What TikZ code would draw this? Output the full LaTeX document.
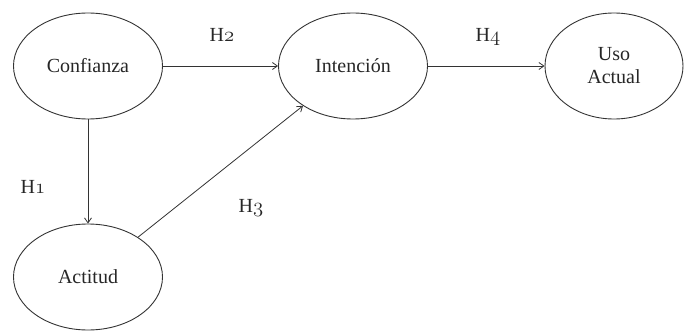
\documentclass[tikz,border=0pt]{standalone}
\usepackage{fontspec}
\setmainfont{Liberation Serif}
\usetikzlibrary{shapes.geometric,arrows.meta}
\newcommand{\hyp}[1]{H$\mathnormal{#1}$}
\begin{document}
\begin{tikzpicture}[x=1pt,y=-1pt,
  bub/.style={ellipse,draw=black!80,line width=0.9pt,inner sep=0pt,
    minimum width=149pt,minimum height=106pt,
    font=\fontsize{20}{23}\selectfont,align=center,text=black!85},
  lnk/.style={draw=black!80,line width=0.8pt,-{Straight Barb[length=5pt,width=7pt]}},
  lbl/.style={font=\fontsize{20}{22}\selectfont,text=black!85,inner sep=0pt}]
\useasboundingbox (0,0) rectangle (684,331);
\node[bub] (conf) at (88,66) {Confianza};
\node[bub] (int) at (353,66) {Intención};
\node[bub,minimum width=138pt] (uso) at (614,66) {Uso\\Actual};
\node[bub] (act) at (88,277) {Actitud};
\draw[lnk] (conf.east) -- (int.west);
\draw[lnk] (int.east) -- (uso.west);
\draw[lnk] (conf.south) -- (act.north);
\draw[lnk] (act) -- (int);
\node[lbl] (h2) at (222,35) {\hyp{2}};
\node[lbl] (h4) at (488,37) {\hyp{4}};
\node[lbl] (h1) at (33,187) {\hyp{1}};
\node[lbl] (h3) at (251,208) {\hyp{3}};
\end{tikzpicture}
\end{document}
